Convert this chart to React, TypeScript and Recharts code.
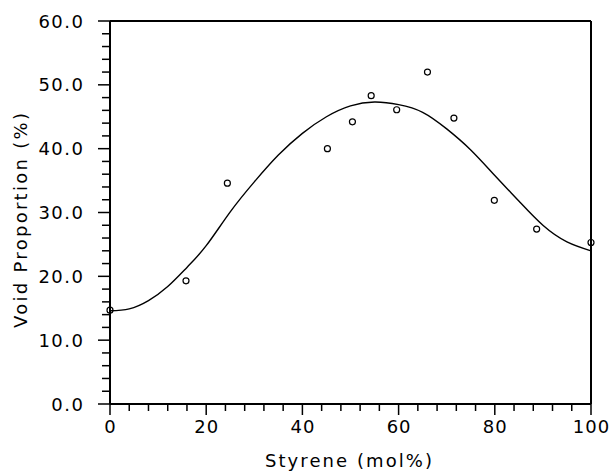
import React from 'react';
import { ComposedChart, Line, Scatter, XAxis, YAxis, ReferenceLine, Label } from 'recharts';

const curveX = [0, 4, 8, 12, 16, 20, 25, 30, 35, 40, 45, 50, 55, 60, 65, 70, 75, 80, 85, 90, 95, 100];
const curveY = [14.6, 14.9, 16.2, 18.4, 21.4, 24.8, 30.1, 34.8, 39.0, 42.4, 45.0, 46.7, 47.3, 46.9, 45.7, 43.1, 39.8, 35.8, 31.8, 28.0, 25.4, 24.0];

const pointX = [0, 15.8, 24.4, 45.2, 50.4, 54.3, 59.6, 66.0, 71.5, 79.9, 88.7, 100];
const pointY = [14.7, 19.3, 34.6, 40.0, 44.2, 48.3, 46.1, 52.0, 44.8, 31.9, 27.4, 25.3];

const xMajorTicks = [0, 20, 40, 60, 80, 100];
const xMinorTicks = [0, 4, 8, 12, 16, 20, 24, 28, 32, 36, 40, 44, 48, 52, 56, 60, 64, 68, 72, 76, 80, 84, 88, 92, 96, 100];
const yMajorTicks = [0, 10, 20, 30, 40, 50, 60];
const yMinorTicks = [0, 2, 4, 6, 8, 10, 12, 14, 16, 18, 20, 22, 24, 26, 28, 30, 32, 34, 36, 38, 40, 42, 44, 46, 48, 50, 52, 54, 56, 58, 60];

const xTitle = 'Styrene (mol%)';
const yTitle = 'Void Proportion (%)';

const curveData = curveX.map((x, i) => ({ x, y: curveY[i] }));
const pointData = pointX.map((x, i) => ({ x, y: pointY[i] }));

const FONT = '"DejaVu Sans", sans-serif';

const XTick = (props: any) => {
  const { x, y, payload } = props;
  const major = xMajorTicks.includes(payload.value);
  return (
    <g>
      <line x1={x} x2={x} y1={y} y2={y + (major ? 11 : 7)} stroke="#000" strokeWidth={1.5} />
      {major && (
        <text x={x + 0.5} y={y + 29} textAnchor="middle" fontFamily={FONT} fontSize={18} letterSpacing={1} fill="#000">
          {String(payload.value)}
        </text>
      )}
    </g>
  );
};

const YTick = (props: any) => {
  const { x, y, payload } = props;
  const major = yMajorTicks.includes(payload.value);
  return (
    <g>
      <line x1={x} x2={x - (major ? 12 : 8)} y1={y} y2={y} stroke="#000" strokeWidth={1.5} />
      {major && (
        <text x={x - 25.5} y={y + 6.5} textAnchor="end" fontFamily={FONT} fontSize={18} letterSpacing={1.5} fill="#000">
          {Number(payload.value).toFixed(1)}
        </text>
      )}
    </g>
  );
};

const XTitle = (props: any) => {
  const vb = props.viewBox || {};
  const cx = vb.x + vb.width / 2 - 2;
  return (
    <text x={cx} y={vb.y + 63} textAnchor="middle" fontFamily={FONT} fontSize={18} fill="#000" textLength={167} lengthAdjust="spacing">
      {xTitle}
    </text>
  );
};

const YTitle = (props: any) => {
  const vb = props.viewBox || {};
  const cx = 27;
  const cy = vb.y + vb.height / 2 + 8;
  return (
    <text x={cx} y={cy} transform={`rotate(-90, ${cx}, ${cy})`} textAnchor="middle" fontFamily={FONT} fontSize={18} fill="#000" textLength={215} lengthAdjust="spacing">
      {yTitle}
    </text>
  );
};

const Dot = (props: any) => {
  const { cx, cy } = props;
  return <circle cx={cx} cy={cy} r={3} fill="none" stroke="#000" strokeWidth={1.2} />;
};

export default function App() {
  return (
    <div style={{ position: 'absolute', left: 0, top: 0, width: 611, height: 472, background: '#fff' }}>
      <ComposedChart width={611} height={472} margin={{ top: 21, right: 20, bottom: 0, left: 0 }} style={{ overflow: 'visible' }}>
        <XAxis
          dataKey="x"
          type="number"
          domain={[0, 100]}
          ticks={xMinorTicks}
          interval={0}
          tickSize={0}
          tickMargin={0}
          tickLine={false}
          tick={<XTick />}
          axisLine={{ stroke: '#000', strokeWidth: 2 }}
          height={68}
        >
          <Label content={<XTitle />} />
        </XAxis>
        <YAxis
          type="number"
          domain={[0, 60]}
          ticks={yMinorTicks}
          interval={0}
          tickSize={0}
          tickMargin={0}
          tickLine={false}
          tick={<YTick />}
          axisLine={{ stroke: '#000', strokeWidth: 2 }}
          width={110}
        >
          <Label content={<YTitle />} />
        </YAxis>
        <ReferenceLine y={60} stroke="#000" strokeWidth={2} ifOverflow="visible" />
        <ReferenceLine x={100} stroke="#000" strokeWidth={2} ifOverflow="visible" />
        <Line data={curveData} dataKey="y" type="natural" stroke="#000" strokeWidth={1.4} dot={false} activeDot={false} isAnimationActive={false} />
        <Scatter data={pointData} dataKey="y" shape={<Dot />} isAnimationActive={false} />
      </ComposedChart>
    </div>
  );
}
